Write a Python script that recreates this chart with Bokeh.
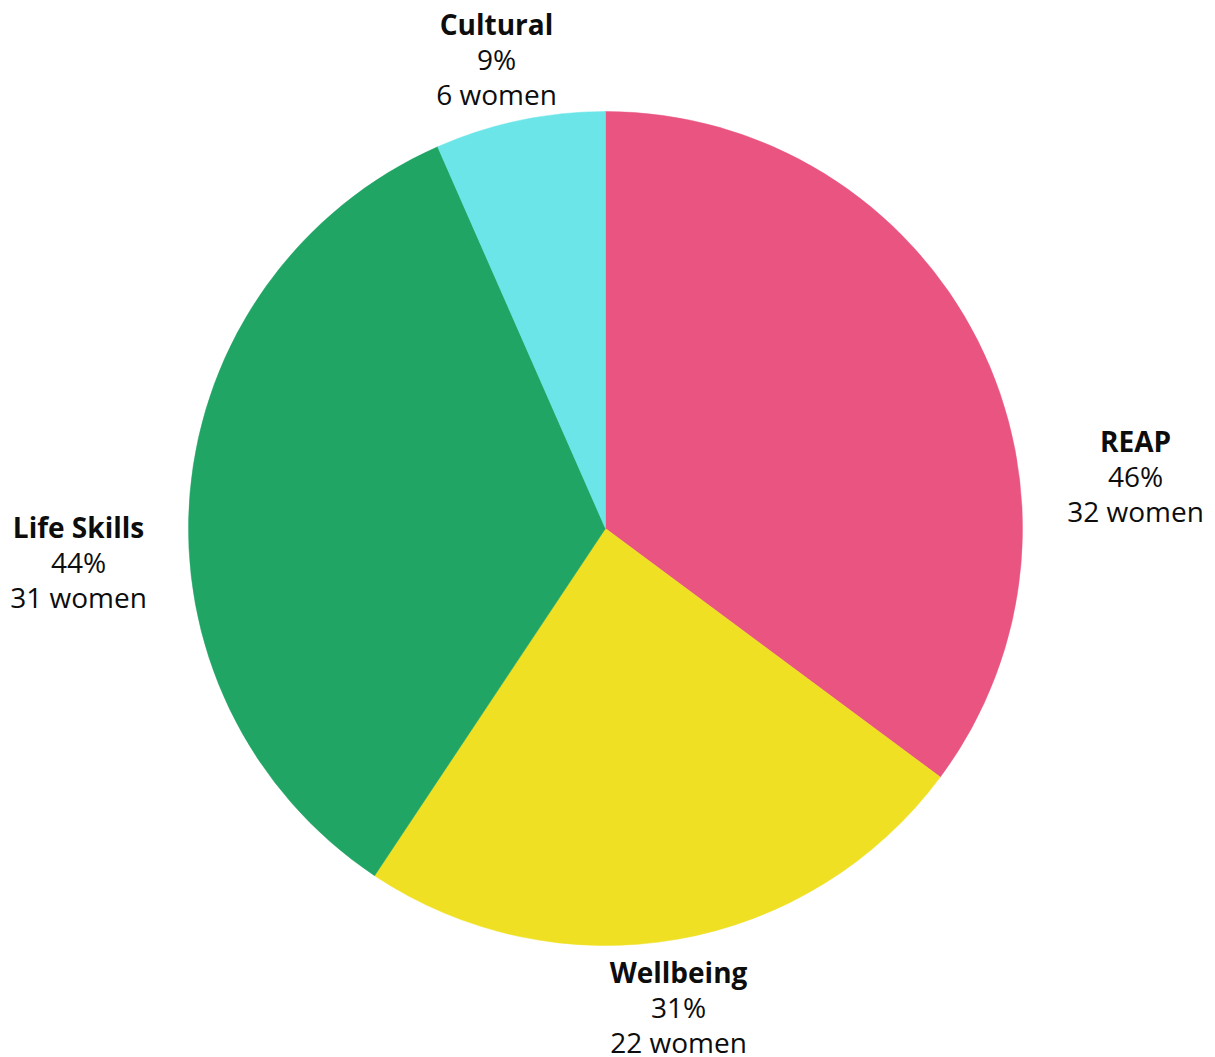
import math
from bokeh.plotting import figure
from bokeh.models import Range1d, ColumnDataSource
from bokeh.core.properties import value
from bokeh.embed import file_html
from bokeh.resources import INLINE

categories = ["REAP", "Wellbeing", "Life Skills", "Cultural"]
women = [32, 22, 31, 6]
percent_labels = ["46%", "31%", "44%", "9%"]
colors = ["#E95480", "#EFE024", "#20A565", "#6BE5E8"]

# layout (pixels from the picture's top-left corner)
label_pos = [(1135, 440), (678, 971), (78, 526), (496, 23)]
center_px = (605, 528)
radius_px = 417
line_gap = 35

W, H = 1207, 1057
p = figure(width=W, height=H, output_backend="svg", toolbar_location=None,
           x_range=Range1d(0, W), y_range=Range1d(0, H),
           min_border=0, outline_line_color=None)
p.axis.visible = False
p.grid.visible = False
p.background_fill_color = "white"
p.border_fill_color = "white"

def sy(y):
    return H - y

total = sum(women)
starts, ends = [], []
cum = 0.0
for w in women:
    starts.append(math.pi / 2 - cum / total * 2 * math.pi)
    cum += w
    ends.append(math.pi / 2 - cum / total * 2 * math.pi)

src = ColumnDataSource(dict(start=starts, end=ends, color=colors, cat=categories))
p.wedge(x=center_px[0], y=sy(center_px[1]), radius=radius_px, radius_units="screen",
        start_angle="start", end_angle="end", direction="clock",
        fill_color="color", line_color="color", line_width=0.5, source=src)

lx = [pos[0] for pos in label_pos]
ly = [sy(pos[1]) for pos in label_pos]
font = value("Open Sans")
common = dict(text_font=font, text_font_size="28px", text_align="center",
              text_baseline="alphabetic", text_color="#0d0d0d")
p.text(x=lx, y=ly, text=categories, text_font_style="bold", **common)
p.text(x=lx, y=[v - line_gap for v in ly], text=percent_labels, **common)
p.text(x=lx, y=[v - 2 * line_gap for v in ly], text=[f"{w} women" for w in women], **common)

open("out.html", "w").write(file_html(p, INLINE))
